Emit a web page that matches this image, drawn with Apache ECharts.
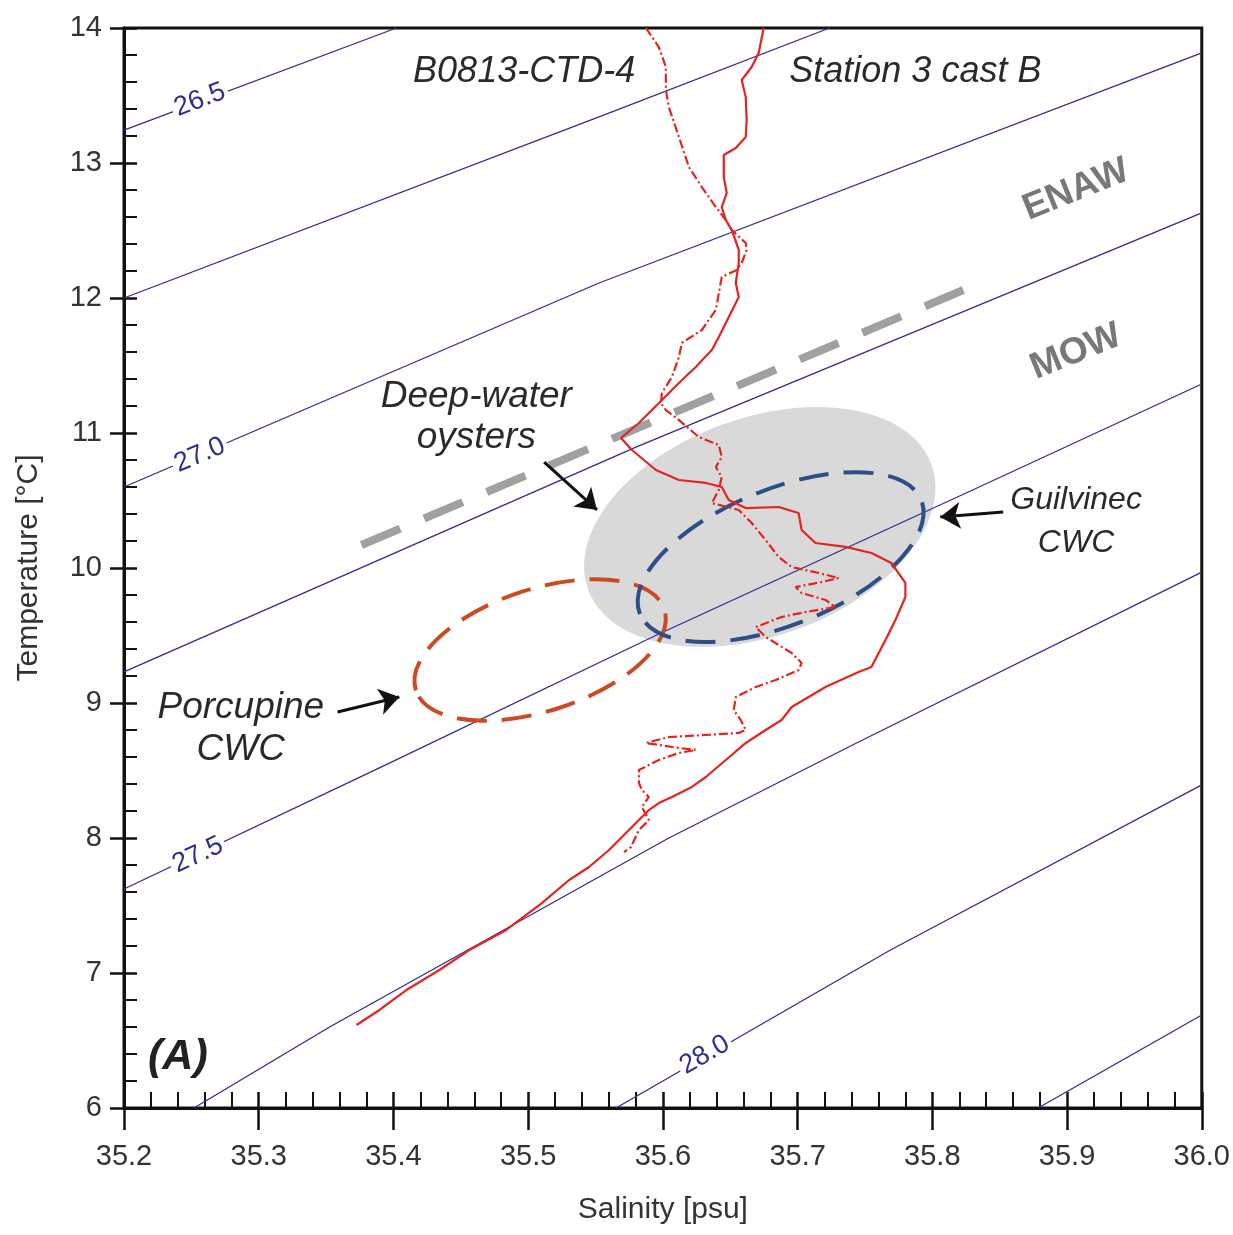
<!DOCTYPE html>
<html><head><meta charset="utf-8">
<script src="https://cdn.jsdelivr.net/npm/echarts@6/dist/echarts.min.js"></script>
<style>html,body{margin:0;padding:0;background:#fff}#c{width:1233px;height:1235px}</style>
</head><body><div id="c"></div>
<script>
const FONT = '"Liberation Sans", Arial, Helvetica, sans-serif';

// ---- axis tick labels ----
const xTickLabels = ['35.2','35.3','35.4','35.5','35.6','35.7','35.8','35.9','36.0'];
const yTickLabels = ['6','7','8','9','10','11','12','13','14'];

// ---- isopycnals (sigma-theta), [salinity, temperature] ----
const iso_26_50 = [[35.2,13.244],[35.4022,14.0]];
const iso_26_75 = [[35.2,12.0],[35.5526,13.341],[35.7237,14.0]];
const iso_27_00 = [[35.2,10.6],[35.5526,12.111],[36.0,13.815]];
const iso_27_25 = [[35.2,9.23],[35.58,10.896],[36.0,12.63]];
const iso_27_50 = [[35.2,7.622],[35.3896,8.519],[35.597,9.511],[35.8267,10.563],[36.0,11.363]];
const iso_27_75 = [[35.2519,6.0],[35.3526,6.6],[35.6044,8.0],[35.7452,8.711],[36.0,9.97]];
const iso_28_00 = [[35.5652,6.0],[35.7689,7.17],[36.0,8.393]];
const iso_28_25 = [[35.8785,6.0],[36.0,6.689]];
const isoLabelText = ['26.5','27.0','27.5','28.0'];
const isoLabelAt = [[35.2563,13.467],[35.2563,10.837],[35.2548,7.874],[35.6311,6.393]];

// ---- CTD profile B0813-CTD-4, [salinity, temperature] ----
const profileSolid = [
 [35.6748,14.0],[35.6711,13.815],[35.6659,13.711],[35.6585,13.615],[35.6615,13.489],[35.6622,13.319],
 [35.6615,13.193],[35.6541,13.111],[35.6452,13.059],[35.6452,12.896],[35.6474,12.778],[35.6437,12.674],
 [35.6467,12.578],[35.6511,12.504],[35.6563,12.356],[35.6563,12.259],[35.6541,12.111],[35.6563,12.007],
 [35.6489,11.859],[35.6415,11.711],[35.6363,11.615],[35.6244,11.489],[35.6119,11.370],[35.5993,11.244],
 [35.5822,11.074],[35.5689,10.963],[35.5770,10.874],[35.5948,10.726],[35.6119,10.652],[35.6319,10.630],
 [35.6437,10.600],[35.6489,10.504],[35.6615,10.444],[35.6859,10.452],[35.7007,10.407],[35.7030,10.281],
 [35.7133,10.185],[35.7356,10.156],[35.7548,10.111],[35.7696,10.037],[35.7800,9.889],[35.7800,9.785],
 [35.7726,9.615],[35.7652,9.467],[35.7548,9.267],[35.7452,9.230],[35.7207,9.119],[35.6956,8.970],
 [35.6881,8.874],[35.6763,8.800],[35.6615,8.704],[35.6467,8.578],[35.6319,8.452],[35.6215,8.378],
 [35.6067,8.304],[35.5970,8.259],[35.5896,8.207],[35.5770,8.081],[35.5600,7.911],[35.5452,7.785],
 [35.5304,7.689],[35.5104,7.519],[35.4837,7.319],[35.4563,7.170],[35.4341,7.022],[35.4096,6.874],
 [35.3896,6.726],[35.3726,6.615]
];
const profileDashDot = [
 [35.5874,14.0],[35.5970,13.859],[35.6022,13.711],[35.6022,13.541],[35.6044,13.415],[35.6119,13.193],
 [35.6193,12.970],[35.6289,12.822],[35.6393,12.674],[35.6467,12.578],[35.6511,12.504],[35.6615,12.407],
 [35.6622,12.356],[35.6585,12.259],[35.6548,12.207],[35.6437,12.156],[35.6393,11.911],[35.6289,11.763],
 [35.6141,11.667],[35.6119,11.563],[35.6067,11.415],[35.5993,11.296],[35.5985,11.222],[35.6022,11.170],
 [35.6119,11.096],[35.6267,10.970],[35.6415,10.911],[35.6437,10.822],[35.6393,10.748],[35.6437,10.674],
 [35.6415,10.578],[35.6363,10.481],[35.6563,10.430],[35.6659,10.333],[35.6763,10.207],[35.6859,10.081],
 [35.6956,10.007],[35.7156,9.963],[35.7304,9.926],[35.7178,9.896],[35.6985,9.859],[35.7030,9.815],
 [35.7207,9.763],[35.7281,9.711],[35.7059,9.674],[35.6881,9.637],[35.6689,9.563],[35.6763,9.489],
 [35.6956,9.370],[35.7030,9.296],[35.7007,9.244],[35.6837,9.170],[35.6689,9.119],[35.6541,9.044],
 [35.6526,8.948],[35.6578,8.874],[35.6615,8.800],[35.6563,8.778],[35.6319,8.763],[35.6044,8.748],
 [35.5874,8.704],[35.6067,8.674],[35.6244,8.652],[35.6119,8.630],[35.5970,8.578],[35.5822,8.504],
 [35.5822,8.407],[35.5844,8.356],[35.5896,8.304],[35.5844,8.230],[35.5896,8.133],[35.5822,8.059],
 [35.5763,7.933],[35.5711,7.896]
];

// ---- water-mass boundary (ENAW / MOW) ----
const enawMowBoundary = [[35.3763,10.170],[35.823,12.059]];

// ---- ellipses: [centre S, centre T, semi-axis (psu), semi-axis (degC)] ----
const oysterField = [[35.6719,10.304,0.1356,0.807]];
const guilvinecCWC = [[35.6874,10.081,0.1126,0.504]];
const porcupineCWC = [[35.5089,9.393,0.0970,0.452]];

// ---- annotation texts and anchors ----
const headerText = ['B0813-CTD-4','Station 3 cast B'];
const headerAt = [[35.497,13.674],[35.7874,13.674]];
const massText = ['ENAW','MOW'];
const massAt = [[35.9067,12.80],[35.9067,11.60]];
const siteText = ['Deep-water','oysters','Porcupine','CWC'];
const siteAt = [[35.4615,11.267],[35.4615,10.963],[35.2867,8.963],[35.2867,8.652]];
const guilText = ['Guilvinec','CWC'];
const guilAt = [[35.9067,10.504],[35.9067,10.185]];
const panelText = ['(A)'];
const panelAt = [[35.24,6.378]];
const arrowsFromTo = [
 [[35.5119,10.785],[35.5511,10.430]],
 [[35.8526,10.415],[35.8059,10.378]],
 [[35.3585,8.933],[35.4044,9.044]]
];

const ISO_COLOR = '#2e2e8e';
const chart = echarts.init(document.getElementById('c'), null, {renderer:'canvas'});

function isoSeries(d){
  return {type:'line', data:d, showSymbol:false, symbol:'none', silent:true, z:2,
    lineStyle:{color:ISO_COLOR, width:1.3}, animation:false};
}
function ellipseSeries(d, rotDeg, style, z){
  return {type:'custom', data:d, z:z, silent:true, encode:{x:0,y:1}, animation:false,
    renderItem:function(params, api){
      const c = api.coord([api.value(0), api.value(1)]);
      const rx = api.size([api.value(2),0])[0];
      const ry = api.size([0,api.value(3)])[1];
      return {type:'ellipse', x:c[0], y:c[1], rotation:rotDeg*Math.PI/180,
        shape:{cx:0, cy:0, rx:rx, ry:ry}, style:style};
    }};
}
function textSeries(texts, at, labelStyle, z){
  return {type:'custom', z:z, silent:true, animation:false, encode:{x:0,y:1},
    data: at.map(p=>[p[0],p[1]]),
    renderItem:function(params, api){
      const i = params.dataIndex;
      const c = api.coord([api.value(0), api.value(1)]);
      const s = labelStyle(i);
      return {type:'text', x:c[0], y:c[1], rotation:(s.rotate||0)*Math.PI/180,
        style:{text:texts[i], x:0, y:0, align:'center', verticalAlign:'middle',
          fontFamily:FONT, fontSize:s.fontSize, fontStyle:s.fontStyle||'normal', fontWeight:s.fontWeight||'normal',
          fill:s.color, backgroundColor:s.backgroundColor, padding:s.padding}};
    }};
}
const isoRot = [21,23,25,30];
const massRot = 22;

const axisCommonX = {type:'value', min:35.2, max:36.0, interval:0.1};
const axisCommonY = {type:'value', min:6, max:14, interval:1};

chart.setOption({
  animation:false,
  backgroundColor:'#fff',
  grid:{left:124, right:29, top:28, bottom:127, show:true, borderColor:'#111', borderWidth:3, backgroundColor:'transparent'},
  xAxis:[
    Object.assign({}, axisCommonX, {position:'bottom',
      name:'Salinity [psu]', nameLocation:'middle', nameGap:87,
      nameTextStyle:{fontFamily:FONT, fontSize:30, color:'#333'},
      axisLine:{show:true, onZero:false, lineStyle:{color:'#111', width:3}},
      axisTick:{show:true, inside:true, length:16, lineStyle:{color:'#111', width:2.5}},
      minorTick:{show:true, splitNumber:5, length:16, lineStyle:{color:'#111', width:2}},
      splitLine:{show:false}, minorSplitLine:{show:false},
      axisLabel:{margin:34, fontFamily:FONT, fontSize:29, color:'#333', showMinLabel:true, showMaxLabel:true,
        formatter:v=>xTickLabels[Math.round((v-35.2)*10)]}}),
    Object.assign({}, axisCommonX, {position:'bottom',
      axisLine:{show:false, onZero:false}, axisTick:{show:true, inside:false, length:22, lineStyle:{color:'#111', width:2.5}},
      axisLabel:{show:false}, splitLine:{show:false}})
  ],
  yAxis:[
    Object.assign({}, axisCommonY, {position:'left',
      name:'Temperature [°C]', nameLocation:'middle', nameGap:80, nameRotate:90,
      nameTextStyle:{fontFamily:FONT, fontSize:30, color:'#333'},
      axisLine:{show:true, onZero:false, lineStyle:{color:'#111', width:3}},
      axisTick:{show:true, inside:true, length:13, lineStyle:{color:'#111', width:2.5}},
      minorTick:{show:true, splitNumber:5, length:13, lineStyle:{color:'#111', width:2}},
      splitLine:{show:false}, minorSplitLine:{show:false},
      axisLabel:{margin:22, fontFamily:FONT, fontSize:29, color:'#333', showMinLabel:true, showMaxLabel:true,
        formatter:v=>yTickLabels[Math.round(v-6)]}}),
    Object.assign({}, axisCommonY, {position:'left',
      axisLine:{show:false, onZero:false}, axisTick:{show:true, inside:false, length:14, lineStyle:{color:'#111', width:2.5}},
      axisLabel:{show:false}, splitLine:{show:false}})
  ],
  series:[
    ellipseSeries(oysterField, 20, {fill:'#d9d9d9', stroke:'none'}, 1),
    isoSeries(iso_26_50), isoSeries(iso_26_75), isoSeries(iso_27_00), isoSeries(iso_27_25),
    isoSeries(iso_27_50), isoSeries(iso_27_75), isoSeries(iso_28_00), isoSeries(iso_28_25),
    textSeries(isoLabelText, isoLabelAt, i=>({fontSize:27, color:ISO_COLOR, rotate:isoRot[i], backgroundColor:'#fff', padding:[0,3]}), 3),
    {type:'line', data:enawMowBoundary, showSymbol:false, symbol:'none', z:3, silent:true,
      lineStyle:{color:'#a0a0a0', width:8, type:[42,26], cap:'butt'}},
    ellipseSeries(porcupineCWC, 18, {fill:'none', stroke:'#cc4a22', lineWidth:4, lineDash:[30,15]}, 4),
    ellipseSeries(guilvinecCWC, 22, {fill:'none', stroke:'#2d4f88', lineWidth:4, lineDash:[30,15]}, 4),
    {type:'line', data:profileDashDot, showSymbol:false, symbol:'none', z:5, silent:true,
      lineStyle:{color:'#e3241f', width:2.2, type:[9,3,2,3]}},
    {type:'line', data:profileSolid, showSymbol:false, symbol:'none', z:5, silent:true,
      lineStyle:{color:'#e3241f', width:2.2}},
    {type:'lines', coordinateSystem:'cartesian2d', z:6, silent:true,
      data: arrowsFromTo.map(a=>({coords:a})),
      symbol:['none','arrow'], symbolSize:[0,20],
      lineStyle:{color:'#111', width:3, curveness:0, opacity:1}},
    textSeries(headerText, headerAt, ()=>({fontSize:36, fontStyle:'italic', color:'#2a2a2a'}), 7),
    textSeries(massText, massAt, ()=>({fontSize:37, fontWeight:'bold', color:'#787878', rotate:massRot}), 7),
    textSeries(siteText, siteAt, ()=>({fontSize:37, fontStyle:'italic', color:'#2a2a2a'}), 7),
    textSeries(guilText, guilAt, ()=>({fontSize:32, fontStyle:'italic', color:'#2a2a2a'}), 7),
    textSeries(panelText, panelAt, ()=>({fontSize:43, fontStyle:'italic', fontWeight:'bold', color:'#222'}), 7)
  ]
});
</script></body></html>
